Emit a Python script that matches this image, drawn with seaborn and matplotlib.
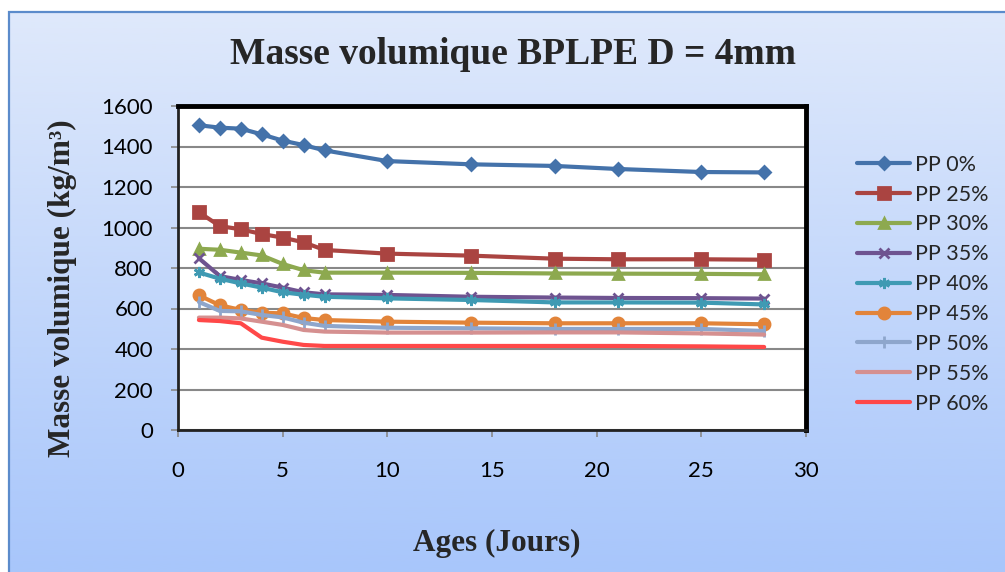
import numpy as np
import pandas as pd
import matplotlib
matplotlib.use("Agg")
import matplotlib.pyplot as plt
import seaborn as sns
from matplotlib.patches import Rectangle
from matplotlib.colors import LinearSegmentedColormap

days = [1, 2, 3, 4, 5, 6, 7, 10, 14, 18, 21, 25, 28]
pp0 = [1505, 1493, 1488, 1460, 1429, 1407, 1381, 1328, 1312, 1304, 1289, 1274, 1272]
pp25 = [1075, 1007, 991, 968, 950, 927, 889, 871, 861, 846, 843, 843, 841]
pp30 = [895, 890, 876, 862, 820, 789, 777, 777, 776, 773, 772, 771, 769]
pp35 = [848, 760, 741, 724, 703, 680, 670, 667, 658, 654, 652, 651, 649]
pp40 = [778, 747, 724, 703, 680, 668, 658, 650, 642, 630, 630, 629, 620]
pp45 = [665, 616, 593, 579, 576, 553, 543, 535, 530, 527, 527, 527, 522]
pp50 = [632, 588, 586, 568, 556, 530, 514, 505, 502, 499, 499, 499, 489]
pp55 = [555, 555, 551, 535, 519, 494, 486, 481, 481, 482, 482, 477, 471]
pp60 = [543, 538, 527, 456, 436, 420, 415, 415, 415, 415, 415, 413, 410]

labels = ["PP 0%", "PP 25%", "PP 30%", "PP 35%", "PP 40%", "PP 45%", "PP 50%", "PP 55%", "PP 60%"]
series = [pp0, pp25, pp30, pp35, pp40, pp45, pp50, pp55, pp60]
colors = ["#4472AA", "#AA4441", "#8DA94F", "#6E5390", "#3F9AB3", "#E2843A", "#8EA6CC", "#D59090", "#FF4848"]
markers = ["D", "s", "^", "x", (6, 2, 0), "o", "|", None, None]
msizes = [6, 8, 7, 7, 8, 8, 8, 0, 0]

sns.set_theme(style="white")
plt.rcParams['font.family'] = ['Lato', 'DejaVu Sans']

W, H = 1005, 572
fig = plt.figure(figsize=(W / 100, H / 100), dpi=100)
fig.patch.set_facecolor("white")

# gradient background
bg = fig.add_axes([0, 0, 1, 1], zorder=-10)
grad = np.linspace(0, 1, 256).reshape(-1, 1)
cmap = LinearSegmentedColormap.from_list("bg", ["#DFE9FB", "#A8C6FB"])
bg.imshow(grad, aspect="auto", cmap=cmap, extent=[8 / W, 1, 0, 1 - 11 / H], origin="upper")
bg.set_xlim(0, 1)
bg.set_ylim(0, 1)
bg.add_patch(Rectangle((8.5 / W, -0.01), 1.1, 1 - 11.5 / H + 0.01, fill=False,
                       edgecolor="#5B8BCB", linewidth=1.6))
bg.axis("off")

ax = fig.add_axes([178 / W, 1 - 430 / H, 628 / W, 324 / H])
ax.set_facecolor("white")

df = pd.DataFrame({"day": days})
for lab, s in zip(labels, series):
    df[lab] = s
long = df.melt(id_vars="day", var_name="serie", value_name="val")

for lab, c, m, ms in zip(labels, colors, markers, msizes):
    sub = long[long["serie"] == lab]
    kw = dict(marker=m, markersize=ms, markeredgecolor=c, markerfacecolor=c,
              markeredgewidth=2) if m is not None else {}
    sns.lineplot(data=sub, x="day", y="val", ax=ax, color=c, linewidth=3,
                 label=lab, **kw)

ax.set_xlim(0, 30)
ax.set_ylim(0, 1600)
ax.set_xticks(range(0, 31, 5))
ax.set_yticks(range(0, 1601, 200))
ax.yaxis.grid(True, color="#888888", linewidth=1.5)
ax.xaxis.grid(False)
ax.set_axisbelow(True)
ax.set_xlabel("")
ax.set_ylabel("")
ax.tick_params(axis="both", which="major", direction="out", length=5, width=1.2,
               color="#888888", labelsize=16, labelcolor="black")
ax.tick_params(axis="x", pad=17)
ax.tick_params(axis="y", pad=13)
ax.tick_params(bottom=True, left=True)
for sp in ["left", "bottom"]:
    ax.spines[sp].set_color("#222222")
    ax.spines[sp].set_linewidth(2)
for sp in ["top", "right"]:
    ax.spines[sp].set_color("black")
    ax.spines[sp].set_linewidth(3.5)

handles, labs = ax.get_legend_handles_labels()
ax.legend_.remove()
leg = fig.legend(handles, labs, loc="upper left", bbox_to_anchor=(848 / W, 1 - 146 / H),
                 frameon=False, fontsize=15.5, handlelength=2.5, labelspacing=0.46,
                 handletextpad=0.2, borderaxespad=0)

fig.text(513 / W, 1 - 55 / H, "Masse volumique BPLPE D = 4mm", ha="center", va="center",
         fontsize=27, fontweight="bold", family="Liberation Serif")
fig.text(497 / W, 1 - 543 / H, "Ages (Jours)", ha="center", va="center",
         fontsize=22.5, fontweight="bold", family="Liberation Serif")
fig.text(62 / W, 1 - 288 / H, "Masse volumique (kg/m³)", ha="center", va="center",
         rotation=90, fontsize=22.5, fontweight="bold", family="Liberation Serif")

fig.savefig("out.png", dpi=100)
